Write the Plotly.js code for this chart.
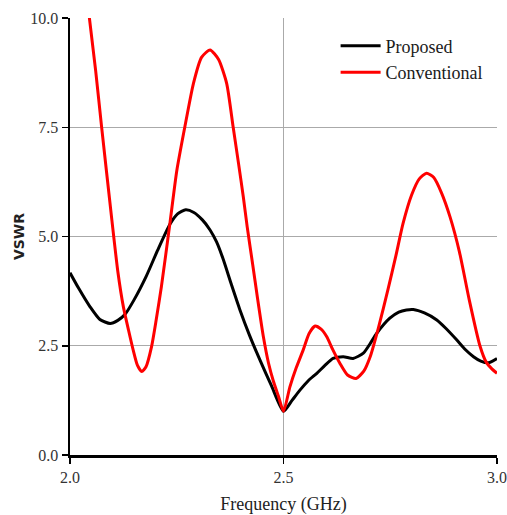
<!DOCTYPE html>
<html>
<head>
<meta charset="utf-8">
<script src="https://cdn.plot.ly/plotly-3.0.1.min.js"></script>
<style>html,body{margin:0;padding:0;background:#fff;overflow:hidden;}#chart{width:507px;height:515px;}</style>
</head>
<body>
<div id="chart"></div>
<script>
const propFreq = [2.000, 2.020, 2.047, 2.070, 2.094, 2.112, 2.129, 2.150, 2.179, 2.205, 2.234, 2.252, 2.271, 2.290, 2.310, 2.328, 2.343, 2.358, 2.378, 2.398, 2.420, 2.445, 2.472, 2.500, 2.520, 2.539, 2.558, 2.578, 2.597, 2.616, 2.640, 2.663, 2.687, 2.703, 2.718, 2.749, 2.770, 2.788, 2.804, 2.830, 2.859, 2.880, 2.906, 2.925, 2.945, 2.962, 2.980, 3.000];
const propVswr = [4.17, 3.82, 3.39, 3.10, 3.01, 3.08, 3.22, 3.55, 4.10, 4.68, 5.28, 5.52, 5.61, 5.55, 5.38, 5.15, 4.88, 4.50, 3.90, 3.32, 2.75, 2.17, 1.58, 1.00, 1.25, 1.49, 1.70, 1.87, 2.05, 2.21, 2.25, 2.21, 2.33, 2.55, 2.78, 3.13, 3.27, 3.32, 3.33, 3.25, 3.09, 2.90, 2.63, 2.42, 2.25, 2.15, 2.11, 2.21];

const convFreq = [2.043, 2.060, 2.074, 2.098, 2.112, 2.125, 2.137, 2.148, 2.158, 2.168, 2.178, 2.191, 2.202, 2.214, 2.234, 2.250, 2.269, 2.289, 2.308, 2.328, 2.348, 2.367, 2.382, 2.395, 2.406, 2.415, 2.428, 2.439, 2.453, 2.465, 2.476, 2.488, 2.500, 2.515, 2.530, 2.546, 2.560, 2.574, 2.588, 2.601, 2.616, 2.632, 2.650, 2.670, 2.688, 2.703, 2.722, 2.745, 2.763, 2.780, 2.800, 2.818, 2.835, 2.852, 2.870, 2.890, 2.912, 2.935, 2.960, 2.975, 2.988, 3.000];
const convVswr = [10.2, 8.8, 7.51, 5.38, 4.20, 3.39, 2.86, 2.40, 2.05, 1.91, 2.02, 2.48, 3.10, 3.85, 5.30, 6.50, 7.51, 8.50, 9.10, 9.27, 9.05, 8.50, 7.51, 6.65, 5.90, 5.22, 4.35, 3.60, 2.70, 2.10, 1.70, 1.35, 1.00, 1.56, 2.00, 2.40, 2.78, 2.95, 2.88, 2.71, 2.40, 2.10, 1.83, 1.75, 1.92, 2.25, 2.90, 3.80, 4.55, 5.30, 5.95, 6.32, 6.45, 6.35, 6.00, 5.45, 4.65, 3.55, 2.50, 2.12, 1.97, 1.87];

const xTicks = [2.0, 2.5, 3.0];
const xTickText = ['2.0', '2.5', '3.0'];
const yTicks = [0, 2.5, 5.0, 7.5, 10.0];
const yTickText = ['0.0', '2.5', '5.0', '7.5', '10.0'];

const traces = [
  {x: propFreq, y: propVswr, name: 'Proposed', mode: 'lines', line: {color: '#000000', width: 3, shape: 'spline', smoothing: 0.6}},
  {x: convFreq, y: convVswr, name: 'Conventional', mode: 'lines', line: {color: '#ff0000', width: 3, shape: 'spline', smoothing: 0.6}}
];

const serif = 'Times New Roman, Liberation Serif, serif';
const layout = {
  width: 507, height: 515,
  margin: {l: 70, r: 10, t: 18, b: 60},
  paper_bgcolor: '#ffffff', plot_bgcolor: '#ffffff',
  showlegend: true,
  legend: {x: 0.978, y: 0.978, xanchor: 'right', yanchor: 'top', bgcolor: 'rgba(0,0,0,0)',
           font: {family: serif, size: 18, color: '#1a1a1a'}, tracegroupgap: 0, itemwidth: 40},
  xaxis: {
    range: [2.0, 3.0], tickvals: xTicks, ticktext: xTickText,
    showgrid: true, gridcolor: '#aaaaaa', gridwidth: 1,
    showline: true, linecolor: '#000000', linewidth: 2.5,
    ticks: 'outside', ticklen: 6, tickcolor: '#000000', tickwidth: 1.5,
    tickfont: {family: serif, size: 16, color: '#333333'},
    ticklabeloverflow: 'allow',
    zeroline: false,
    title: {text: 'Frequency (GHz)', font: {family: serif, size: 18, color: '#222222'}, standoff: 15}
  },
  yaxis: {
    range: [0, 10], tickvals: yTicks, ticktext: yTickText,
    showgrid: true, gridcolor: '#aaaaaa', gridwidth: 1,
    showline: true, linecolor: '#000000', linewidth: 2.5,
    ticks: 'outside', ticklen: 6, tickcolor: '#000000', tickwidth: 1.5,
    tickfont: {family: serif, size: 16, color: '#333333'},
    zeroline: false,
    title: {text: 'VSWR', font: {family: 'DejaVu Sans', size: 14, color: '#222222', weight: 'bold'}, standoff: 3}
  }
};

Plotly.newPlot('chart', traces, layout, {displayModeBar: false, staticPlot: true});
</script>
</body>
</html>
